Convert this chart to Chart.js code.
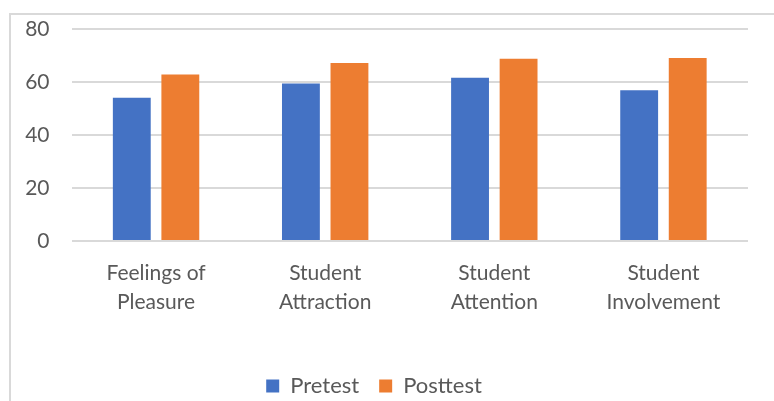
<!DOCTYPE html>
<html>
<head>
<meta charset="utf-8">
<script src="https://cdn.jsdelivr.net/npm/chart.js@4"></script>
<style>
  html, body { margin: 0; padding: 0; background: #fff; overflow: hidden; }
  #wrap { position: relative; width: 774px; height: 401px; }
  #frame { position: absolute; left: 9px; top: 13px; width: 800px; height: 420px; border: 2px solid #d9d9d9; }
  canvas { position: absolute; left: 0; top: 0; }
</style>
</head>
<body>
<div id="wrap">
  <div id="frame"></div>
  <canvas id="chart" width="774" height="401"></canvas>
</div>
<script>
const categories = [
  ['Feelings of', 'Pleasure'],
  ['Student', 'Attraction'],
  ['Student', 'Attention'],
  ['Student', 'Involvement'],
];
const pretest = [54.1, 59.4, 61.6, 56.9];
const posttest = [62.8, 67.2, 68.8, 69.1];
const yTicks = [0, 20, 40, 60, 80];

const font = { family: 'Lato, "Open Sans", sans-serif', size: 21 };
const textColor = '#595959';

const ctx = document.getElementById('chart').getContext('2d');
new Chart(ctx, {
  type: 'bar',
  data: {
    labels: categories,
    datasets: [
      { label: 'Pretest', data: pretest, backgroundColor: '#4472C4' },
      { label: 'Posttest', data: posttest, backgroundColor: '#ED7D31' },
    ],
  },
  options: {
    responsive: false,
    animation: false,
    categoryPercentage: 0.574,
    barPercentage: 0.78,
    layout: { padding: { top: 29, right: 26, left: 0, bottom: -6 } },
    plugins: {
      tooltip: { enabled: false },
      legend: {
        position: 'bottom',
        labels: { color: textColor, font: { ...font, size: 22 }, boxWidth: 13, boxHeight: 13, padding: 20 },
      },
    },
    scales: {
      x: {
        grid: { display: false },
        border: { display: false },
        ticks: { color: textColor, font: { ...font, lineHeight: 1.38 }, padding: 10, maxRotation: 0 },
        afterFit: s => { s.height = 114; },
      },
      y: {
        min: 0,
        max: 80,
        afterBuildTicks: s => { s.ticks = yTicks.map(v => ({ value: v })); },
        grid: { color: '#d9d9d9', lineWidth: 2, drawTicks: false },
        border: { display: false },
        ticks: { color: textColor, font, padding: 22 },
        afterFit: s => {
          s.width = 71.5;
          // the tick padding would otherwise push the plot down
          s.paddingTop = 0;
          s.paddingBottom = 0;
        },
      },
    },
  },
});
</script>
</body>
</html>
